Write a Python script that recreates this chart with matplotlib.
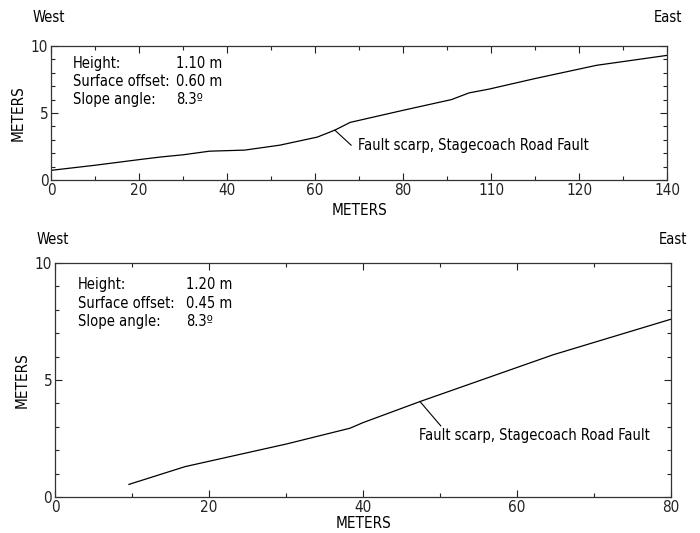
import matplotlib
matplotlib.use("Agg")
import matplotlib.pyplot as plt
from matplotlib.ticker import MultipleLocator

plt.rcParams['font.family'] = ['DejaVu Sans']
plt.rcParams['font.stretch'] = 'condensed'

# Upper profile (distance along profile, elevation), meters
top_x = [0, 10, 20, 25, 30, 36, 44, 52, 60.5, 64.5, 68, 80, 91, 95, 99.5, 110, 124, 140]
top_y = [0.72, 1.1, 1.52, 1.72, 1.88, 2.15, 2.23, 2.6, 3.2, 3.72, 4.3, 5.2, 6.0, 6.5, 6.78, 7.57, 8.56, 9.3]
top_ticks = [0, 20, 40, 60, 80, 100, 120, 140]
top_ticklabels = ['0', '20', '40', '60', '80', '110', '120', '140']
top_stats = [('Height:', '1.10 m'), ('Surface offset:', '0.60 m'), ('Slope angle:', '8.3º')]

# Lower profile
bot_x = [9.6, 16.9, 30.1, 38.3, 40.0, 47.4, 64.7, 80]
bot_y = [0.54, 1.30, 2.27, 2.94, 3.18, 4.08, 6.08, 7.6]
bot_ticks = [0, 20, 40, 60, 80]
bot_stats = [('Height:', '1.20 m'), ('Surface offset:', '0.45 m'), ('Slope angle:', '8.3º')]

scarp_label = 'Fault scarp, Stagecoach Road Fault'

fig = plt.figure(figsize=(7, 5.33), dpi=100)
ax1 = fig.add_axes([0.0729, 0.6623, 0.88, 0.2514])
ax2 = fig.add_axes([0.0786, 0.0675, 0.88, 0.439])

FS = 10.5


def style(ax, xmax, ticks, labels, xpad, ypad):
    ax.set_xlim(0, xmax)
    ax.set_ylim(0, 10)
    ax.set_xticks(ticks)
    ax.set_xticklabels(labels)
    ax.xaxis.set_minor_locator(MultipleLocator(10))
    ax.set_yticks([0, 5, 10])
    ax.yaxis.set_minor_locator(MultipleLocator(1))
    ax.tick_params(which='both', direction='in', top=True, right=True,
                   labelsize=FS + 0.5, width=0.8, colors='#222222', pad=2)
    ax.tick_params(which='major', length=5)
    ax.tick_params(which='minor', length=3)
    for s in ax.spines.values():
        s.set_linewidth(0.9)
        s.set_color('#333333')
    ax.set_xlabel('METERS', fontsize=FS + 0.5, labelpad=xpad)
    ax.set_ylabel('METERS', fontsize=FS + 0.5, labelpad=ypad)


style(ax1, 140, top_ticks, top_ticklabels, 4, 4)
ax1.plot(top_x, top_y, color='black', lw=0.9)
ax1.plot([64.5, 68.2], [3.72, 2.6], color='black', lw=0.8)
ax1.text(69.8, 2.6, scarp_label, fontsize=FS, va='center', ha='left')
for i, (lab, val) in enumerate(top_stats):
    y = 8.71 - i * 1.36
    ax1.text(5.0, y, lab, fontsize=FS, va='center', ha='left')
    ax1.text(28.5, y, val, fontsize=FS, va='center', ha='left')

style(ax2, 80, bot_ticks, [str(t) for t in bot_ticks], 1, 4)
ax2.plot(bot_x, bot_y, color='black', lw=0.9)
ax2.plot([47.4, 50.1], [4.08, 3.04], color='black', lw=0.8)
ax2.text(47.3, 2.65, scarp_label, fontsize=FS, va='center', ha='left')
for i, (lab, val) in enumerate(bot_stats):
    y = 9.07 - i * 0.785
    ax2.text(2.95, y, lab, fontsize=FS, va='center', ha='left')
    ax2.text(17.0, y, val, fontsize=FS, va='center', ha='left')

# Direction labels above each profile
fig.text(33 / 700, 1 - 18 / 533, 'West', fontsize=FS, va='center', ha='left')
fig.text(682 / 700, 1 - 18 / 533, 'East', fontsize=FS, va='center', ha='right')
fig.text(37 / 700, 1 - 240 / 533, 'West', fontsize=FS, va='center', ha='left')
fig.text(687 / 700, 1 - 240 / 533, 'East', fontsize=FS, va='center', ha='right')

fig.savefig('out.png', dpi=100)
